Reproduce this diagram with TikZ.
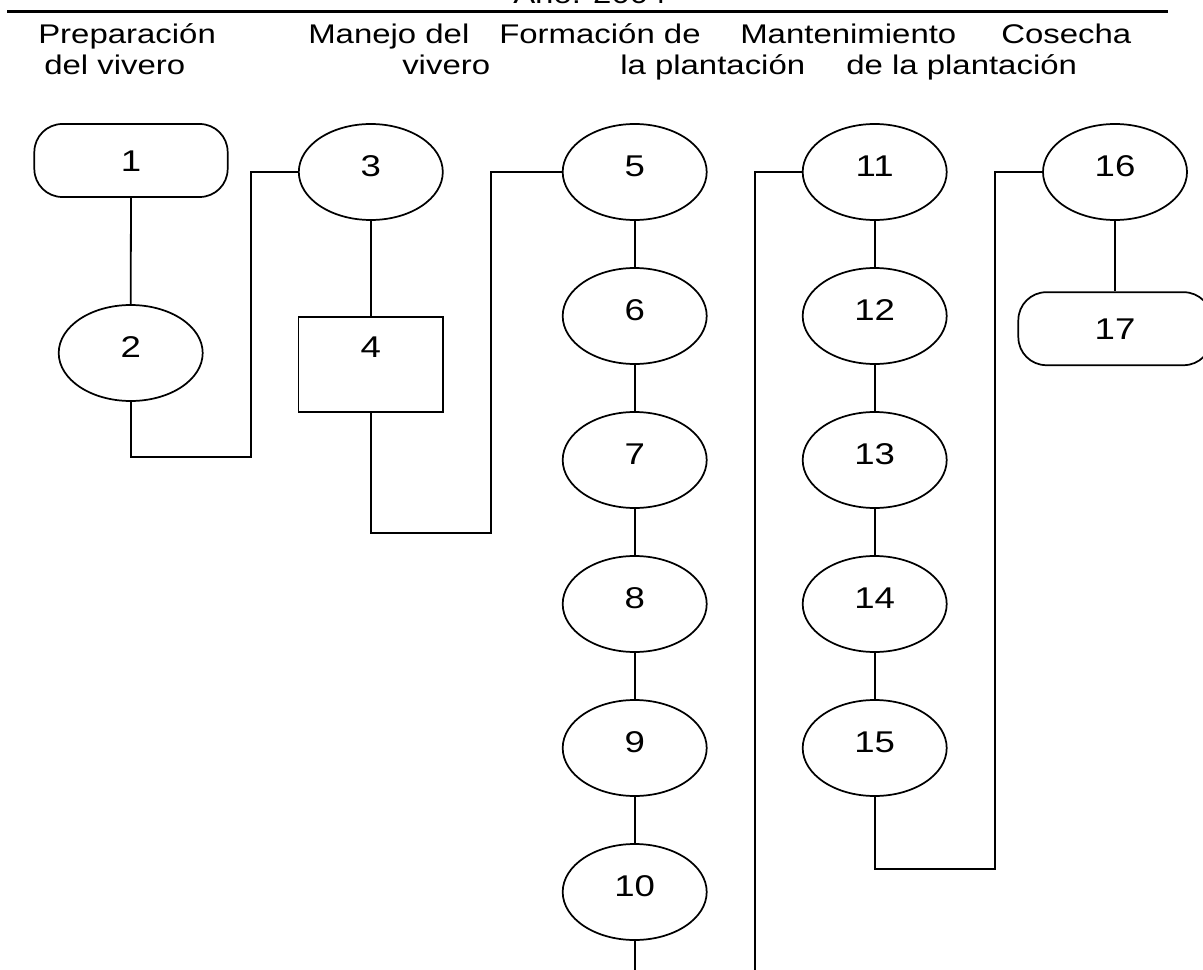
\documentclass[tikz,border=0pt]{standalone}
\usepackage{fontspec}
\setmainfont{Liberation Sans}[FakeStretch=1.22]
\usetikzlibrary{shapes.geometric}
\begin{document}
\begin{tikzpicture}[x=0.75pt,y=-0.75pt,
  headfont/.style={font=\fontsize{20.25pt}{23.3pt}\selectfont},
  numfont/.style={font=\fontsize{22.5pt}{25.9pt}\selectfont},
  conn/.style={draw,line width=1.35pt},
  oval/.style={ellipse,draw,line width=1.3pt,inner sep=0pt,numfont,
    minimum width=108pt,minimum height=72pt,text height=16.3pt,text depth=10pt},
  activity/.style={rectangle,draw,line width=1.3pt,inner sep=0pt,numfont,
    minimum width=108.5pt,minimum height=71.7pt,text height=16.3pt,text depth=27.2pt},
  terminal/.style={rectangle,rounded corners=21pt,draw,line width=1.3pt,inner sep=0pt,numfont,
    minimum width=145pt,minimum height=54.75pt,text height=16.3pt,text depth=0.2pt},
  head/.style={anchor=base west,inner sep=0pt,headfont}]
\useasboundingbox (0,0) rectangle (1203,970);

% title and rule
\node[head] (title) at (513,3.5) {Año: 2004};
\draw[line width=2.5pt] (7,11.5) -- (1168,11.5);

% column headings
\node[head] (h1a) at (38,43.3) {Preparación};
\node[head] (h1b) at (44,74.5) {del vivero};
\node[head] (h2a) at (308,43.3) {Manejo del};
\node[head] (h2b) at (402,74.5) {vivero};
\node[head] (h3a) at (499,43.3) {Formación de};
\node[head] (h3b) at (620,74.5) {la plantación};
\node[head] (h4a) at (740,43.3) {Mantenimiento};
\node[head] (h4b) at (846,74.5) {de la plantación};
\node[head] (h5a) at (1001,43.3) {Cosecha};

% nursery preparation and management
\node[terminal] (n1) at (131,160.5) {1};
\node[oval] (n2) at (130.7,353) {2};
\node[oval] (n3) at (370.8,172) {3};
\node[activity] (n4) at (370.8,364.5) {4};

% plantation establishment
\node[oval] (n5) at (634.7,172) {5};
\node[oval] (n6) at (634.7,316) {6};
\node[oval] (n7) at (634.7,460) {7};
\node[oval] (n8) at (634.7,604) {8};
\node[oval] (n9) at (634.7,748) {9};
\node[oval] (n10) at (634.7,892) {10};

% plantation maintenance
\node[oval] (n11) at (874.7,172) {11};
\node[oval] (n12) at (874.7,316) {12};
\node[oval] (n13) at (874.7,460) {13};
\node[oval] (n14) at (874.7,604) {14};
\node[oval] (n15) at (874.7,748) {15};

% harvest
\node[oval] (n16) at (1115,172) {16};
\node[terminal] (n17) at (1115,328.7) {17};

% routing points
\coordinate (c1) at (251,457);
\coordinate (c2) at (491,533);
\coordinate (c3) at (634.7,975);
\coordinate (c4) at (755,975);
\coordinate (c5) at (995,869);

% connectors
\draw[conn] (n1.south) -- (n2.north);
\draw[conn] (n2.south) |- (c1) |- (n3.west);
\draw[conn] (n3.south) -- (n4.north);
\draw[conn] (n4.south) |- (c2) |- (n5.west);
\draw[conn] (n5.south) -- (n6.north);
\draw[conn] (n6.south) -- (n7.north);
\draw[conn] (n7.south) -- (n8.north);
\draw[conn] (n8.south) -- (n9.north);
\draw[conn] (n9.south) -- (n10.north);
\draw[conn] (n10.south) -- (c3);
\draw[conn] (c4) |- (n11.west);
\draw[conn] (n11.south) -- (n12.north);
\draw[conn] (n12.south) -- (n13.north);
\draw[conn] (n13.south) -- (n14.north);
\draw[conn] (n14.south) -- (n15.north);
\draw[conn] (n15.south) |- (c5) |- (n16.west);
\draw[conn] (n16.south) -- (n17.north);
\end{tikzpicture}
\end{document}
